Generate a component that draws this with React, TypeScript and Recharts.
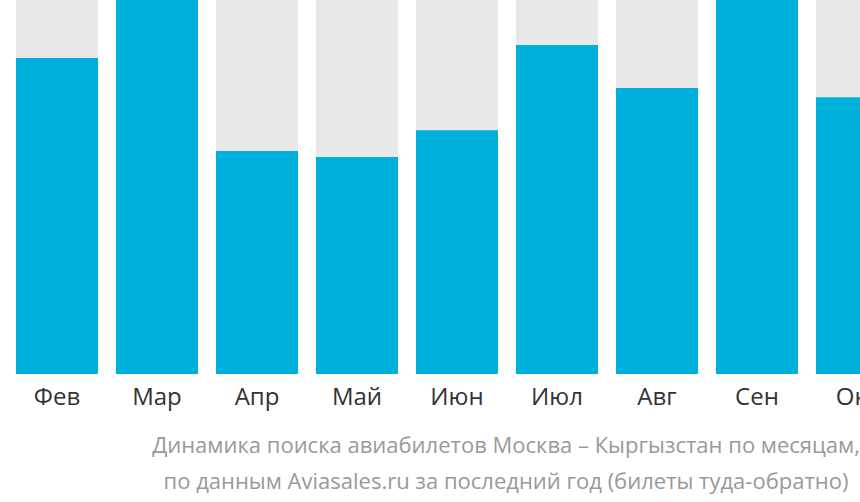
import React from 'react';
import { BarChart, Bar, XAxis, YAxis } from 'recharts';

const months = ['Фев', 'Мар', 'Апр', 'Май', 'Июн', 'Июл', 'Авг', 'Сен', 'Окт'];
const searches = [84.5, 100, 59.6, 58.0, 65.2, 88.0, 76.5, 100, 74.0];
const captionLines = [
  'Динамика поиска авиабилетов Москва – Кыргызстан по месяцам,',
  'по данным Aviasales.ru за последний год (билеты туда-обратно)',
];

const data = months.map((m, i) => ({ month: m, value: searches[i] }));

const FONT = '"Open Sans", "Noto Sans", sans-serif';

const MonthTick = (props: any) => {
  const { x, y, payload } = props;
  return (
    <text x={x} y={y} dy={23} textAnchor="middle" fill="#333333" fontSize={24} fontFamily={FONT}>
      {payload.value}
    </text>
  );
};

export default function App() {
  return (
    <div style={{ position: 'absolute', left: 0, top: 0, width: 860, height: 502, overflow: 'hidden', background: '#fff' }}>
      <BarChart
        width={907}
        height={420}
        data={data}
        margin={{ top: 0, right: 0, bottom: 0, left: 7 }}
        barCategoryGap={9}
      >
        <XAxis
          dataKey="month"
          axisLine={false}
          tickLine={false}
          height={46}
          interval={0}
          tick={<MonthTick />}
        />
        <YAxis hide domain={[0, 100]} />
        <Bar
          dataKey="value"
          fill="#00b0dc"
          background={{ fill: '#e8e8e8' }}
          isAnimationActive={false}
        />
      </BarChart>
      {captionLines.map((line, i) => (
        <div
          key={i}
          style={{
            position: 'absolute',
            left: 106,
            width: 800,
            top: 429 + i * 36,
            textAlign: 'center',
            fontFamily: FONT,
            fontSize: 22,
            color: '#999999',
            lineHeight: '30px',
            whiteSpace: 'nowrap',
          }}
        >
          {line}
        </div>
      ))}
    </div>
  );
}
